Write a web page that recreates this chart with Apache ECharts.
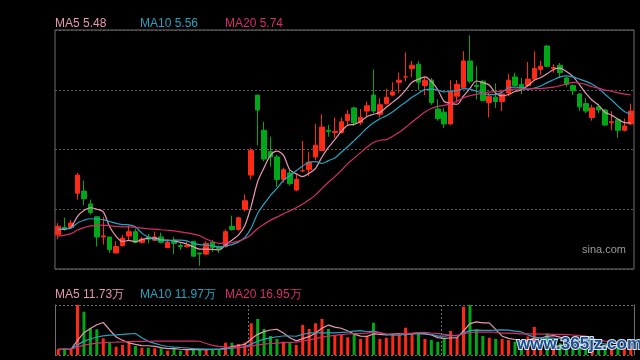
<!DOCTYPE html>
<html><head><meta charset="utf-8">
<script src="https://cdn.jsdelivr.net/npm/echarts@6/dist/echarts.min.js"></script>
<style>html,body{margin:0;padding:0;background:#000}#c{width:640px;height:360px}</style>
</head><body><div id="c"></div>
<script>
// 90 trading sessions shown
const opens  = [4.43,4.50,4.50,4.82,4.84,4.72,4.60,4.41,4.41,4.26,4.33,4.42,4.46,4.36,4.41,4.38,4.41,4.31,4.38,4.33,
                4.32,4.37,4.26,4.25,4.36,4.32,4.32,4.51,4.48,4.67,4.99,5.74,5.41,5.21,5.16,4.95,5.01,4.85,5.03,5.04,
                5.16,5.22,5.41,5.39,5.39,5.50,5.62,5.48,5.59,5.74,5.56,5.66,5.74,5.86,5.91,5.99,6.03,5.83,5.88,5.61,
                5.58,5.47,5.73,5.81,6.06,5.83,5.87,5.67,5.72,5.68,5.76,5.91,5.84,5.83,5.89,5.98,6.20,5.99,6.02,5.90,
                5.83,5.75,5.66,5.53,5.63,5.60,5.48,5.51,5.41,5.47];
const closes = [4.51,4.48,4.54,4.99,4.77,4.64,4.41,4.42,4.29,4.32,4.40,4.46,4.36,4.39,4.39,4.41,4.36,4.36,4.35,4.32,
                4.33,4.23,4.25,4.35,4.31,4.30,4.46,4.48,4.59,4.75,5.22,5.60,5.14,5.16,4.95,5.04,4.91,4.95,5.03,5.11,
                5.27,5.44,5.40,5.40,5.49,5.56,5.48,5.53,5.64,5.59,5.65,5.72,5.77,5.88,5.91,6.02,5.86,5.88,5.67,5.52,
                5.47,5.77,5.84,6.06,5.87,5.82,5.69,5.73,5.68,5.75,5.88,5.83,5.80,5.89,5.99,6.01,6.01,6.00,5.95,5.84,
                5.78,5.63,5.59,5.62,5.60,5.46,5.49,5.41,5.45,5.59];
const lows   = [4.39,4.47,4.49,4.76,4.71,4.62,4.32,4.34,4.26,4.26,4.32,4.38,4.35,4.35,4.35,4.37,4.35,4.31,4.25,4.29,
                4.31,4.23,4.14,4.24,4.27,4.26,4.31,4.47,4.47,4.65,4.95,5.27,5.12,5.07,4.88,4.92,4.89,4.84,5.02,4.98,
                5.13,5.22,5.35,5.34,5.38,5.46,5.45,5.46,5.54,5.57,5.53,5.65,5.73,5.76,5.87,5.91,5.79,5.74,5.65,5.50,
                5.43,5.46,5.67,5.80,5.85,5.70,5.68,5.53,5.62,5.59,5.73,5.82,5.75,5.82,5.88,5.93,6.00,5.95,5.90,5.82,
                5.74,5.59,5.57,5.50,5.57,5.45,5.41,5.34,5.40,5.46];
const highs  = [4.54,4.59,4.57,5.01,4.94,4.76,4.60,4.60,4.41,4.37,4.43,4.52,4.49,4.41,4.44,4.46,4.45,4.38,4.41,4.35,
                4.37,4.37,4.26,4.37,4.38,4.33,4.48,4.61,4.60,4.81,5.24,5.74,5.49,5.35,5.18,5.06,5.04,5.00,5.31,5.21,
                5.47,5.56,5.46,5.53,5.53,5.60,5.63,5.61,5.68,5.98,5.71,5.80,5.86,5.95,6.14,6.06,6.06,5.91,5.90,5.70,
                5.62,5.88,5.88,6.15,6.30,6.01,5.88,5.76,5.85,5.79,5.94,5.95,5.90,6.05,6.15,6.06,6.21,6.03,6.04,5.91,
                5.84,5.76,5.71,5.65,5.66,5.61,5.59,5.52,5.52,5.66];
// volume, unit: 万 (10k shares)
const volumes = [8.0,9.4,8.0,70.0,60.6,37.4,36.0,23.4,17.8,11.6,14.0,17.8,12.6,10.2,10.2,9.4,9.4,6.0,9.4,6.0,
                 7.0,9.4,7.0,8.0,8.0,8.0,17.2,17.2,15.4,17.2,44.4,50.4,36.4,26.6,22.4,18.6,17.2,14.0,42.0,36.4,
                 44.4,50.4,36.4,28.0,28.0,24.8,29.4,22.4,25.6,45.2,22.4,24.2,29.4,28.0,38.2,29.0,30.4,22.4,21.0,18.6,
                 23.4,33.6,24.8,67.6,70.0,36.0,26.6,24.2,22.4,22.4,21.0,18.6,14.0,26.0,39.3,21.0,30.4,18.6,16.4,14.0,
                 12.5,14.0,12.55,10.0,12.0,14.3,9.0,12.35,10.0,13.0];
// sessions before the window (only feed the moving averages)
const priorCloses  = [4.28,4.29,4.31,4.30,4.32,4.33,4.36,4.40,4.45,4.48,4.45,4.48,4.50,4.52,4.50,4.45,4.46,4.47,4.50];
const priorVolumes = [8.0,7.5,9.0,8.5,7.0,8.0,9.5,8.0,7.5,8.5,8.0,7.0,8.5,8.0,7.5,8.0,7.0,8.5,7.5];
const categories = closes.map((_, i) => String(i + 1));

const UP = '#ff2a16', DOWN = '#00a818';
const C5 = '#e898b0', C10 = '#25a3c0', C20 = '#d62e6a';

function ma(n, series, prior) {
  const all = prior.concat(series);
  return series.map((_, i) => {
    const end = i + prior.length;
    let s = 0;
    for (let k = end - n + 1; k <= end; k++) s += all[k];
    return +(s / n).toFixed(3);
  });
}
const ma5 = ma(5, closes, priorCloses), ma10 = ma(10, closes, priorCloses), ma20 = ma(20, closes, priorCloses);
const vma5 = ma(5, volumes, priorVolumes), vma10 = ma(10, volumes, priorVolumes), vma20 = ma(20, volumes, priorVolumes);
const last = a => a[a.length - 1];

const chart = echarts.init(document.getElementById('c'), null, {renderer: 'canvas'});
const hidden = {axisLine:{show:false}, axisTick:{show:false}, axisLabel:{show:false}, splitLine:{show:false}};
const dotted = {show:true, lineStyle:{color:'#5a5a5a', type:[2,2], width:1}};
const font = 'Liberation Sans, Arial, sans-serif';
function legendText(x, y, txt, color) {
  return {type:'text', left:x, top:y, style:{text:txt, fill:color, font:'12px ' + font}};
}
chart.setOption({
  backgroundColor:'#000',
  animation:false,
  grid:[
    {left:55, top:30, width:579, height:239, show:true, borderColor:'#707070', borderWidth:1, backgroundColor:'transparent'},
    {left:55, top:305, width:579, height:50, show:false}
  ],
  xAxis:[
    Object.assign({type:'category', data:categories, gridIndex:0, boundaryGap:true}, hidden),
    Object.assign({type:'category', data:categories, gridIndex:1, boundaryGap:true}, hidden,
      {splitLine:{show:true, interval:(i)=> i === 30 || i === 60, lineStyle:{color:'#707070', type:[2,2]}}})
  ],
  yAxis:[
    Object.assign({type:'value', gridIndex:0, min:4.11, max:6.35, scale:true}, hidden),
    Object.assign({type:'value', gridIndex:0, min:0, max:4, interval:1}, hidden, {splitLine:dotted}),
    Object.assign({type:'value', gridIndex:1, min:0, max:70}, hidden,
      {axisLine:{show:true, lineStyle:{color:'#707070'}}}),
    Object.assign({type:'value', gridIndex:1, min:0, max:1, interval:1, position:'right'}, hidden,
      {axisLine:{show:true, lineStyle:{color:'#707070'}}, splitLine:{show:true, lineStyle:{color:'#707070', type:[2,2]}}})
  ],
  series:[
    {type:'candlestick', xAxisIndex:0, yAxisIndex:0, barWidth:5,
     data: categories.map((_, i) => [opens[i], closes[i], lows[i], highs[i]]),
     itemStyle:{color:UP, color0:DOWN, borderColor:UP, borderColor0:DOWN, borderWidth:1}},
    {type:'line', xAxisIndex:0, yAxisIndex:0, data:ma5, showSymbol:false, smooth:0.3, lineStyle:{color:C5, width:1.2}},
    {type:'line', xAxisIndex:0, yAxisIndex:0, data:ma10, showSymbol:false, smooth:0.3, lineStyle:{color:C10, width:1.2}},
    {type:'line', xAxisIndex:0, yAxisIndex:0, data:ma20, showSymbol:false, smooth:0.3, lineStyle:{color:C20, width:1.2}},
    {type:'bar', xAxisIndex:1, yAxisIndex:2, barWidth:3,
     data: volumes.map((v, i) => ({value:v, itemStyle:{color: closes[i] >= opens[i] ? UP : DOWN}}))},
    {type:'line', xAxisIndex:1, yAxisIndex:2, data:vma5, showSymbol:false, lineStyle:{color:C5, width:1.2}},
    {type:'line', xAxisIndex:1, yAxisIndex:2, data:vma10, showSymbol:false, lineStyle:{color:C10, width:1.2}},
    {type:'line', xAxisIndex:1, yAxisIndex:2, data:vma20, showSymbol:false, lineStyle:{color:C20, width:1.2}}
  ],
  graphic:[
    legendText(55, 18, 'MA5 ' + last(ma5).toFixed(2), C5),
    legendText(140, 18, 'MA10 ' + last(ma10).toFixed(2), C10),
    legendText(225, 18, 'MA20 ' + last(ma20).toFixed(2), C20),
    legendText(55, 289, 'MA5 ' + last(vma5).toFixed(2) + '万', C5),
    legendText(140, 289, 'MA10 ' + last(vma10).toFixed(2) + '万', C10),
    legendText(225, 289, 'MA20 ' + last(vma20).toFixed(2) + '万', C20),
    {type:'text', left:582, top:244, style:{text:'sina.com', fill:'#9a9a9a', font:'11px ' + font}},
    {type:'text', left:516, top:335, z:100, style:{text:'www.365jz.com', fill:'#1d4f8f', stroke:'#d8e4f0', lineWidth:2,
      font:'bold 17px ' + font}}
  ]
});
</script></body></html>
